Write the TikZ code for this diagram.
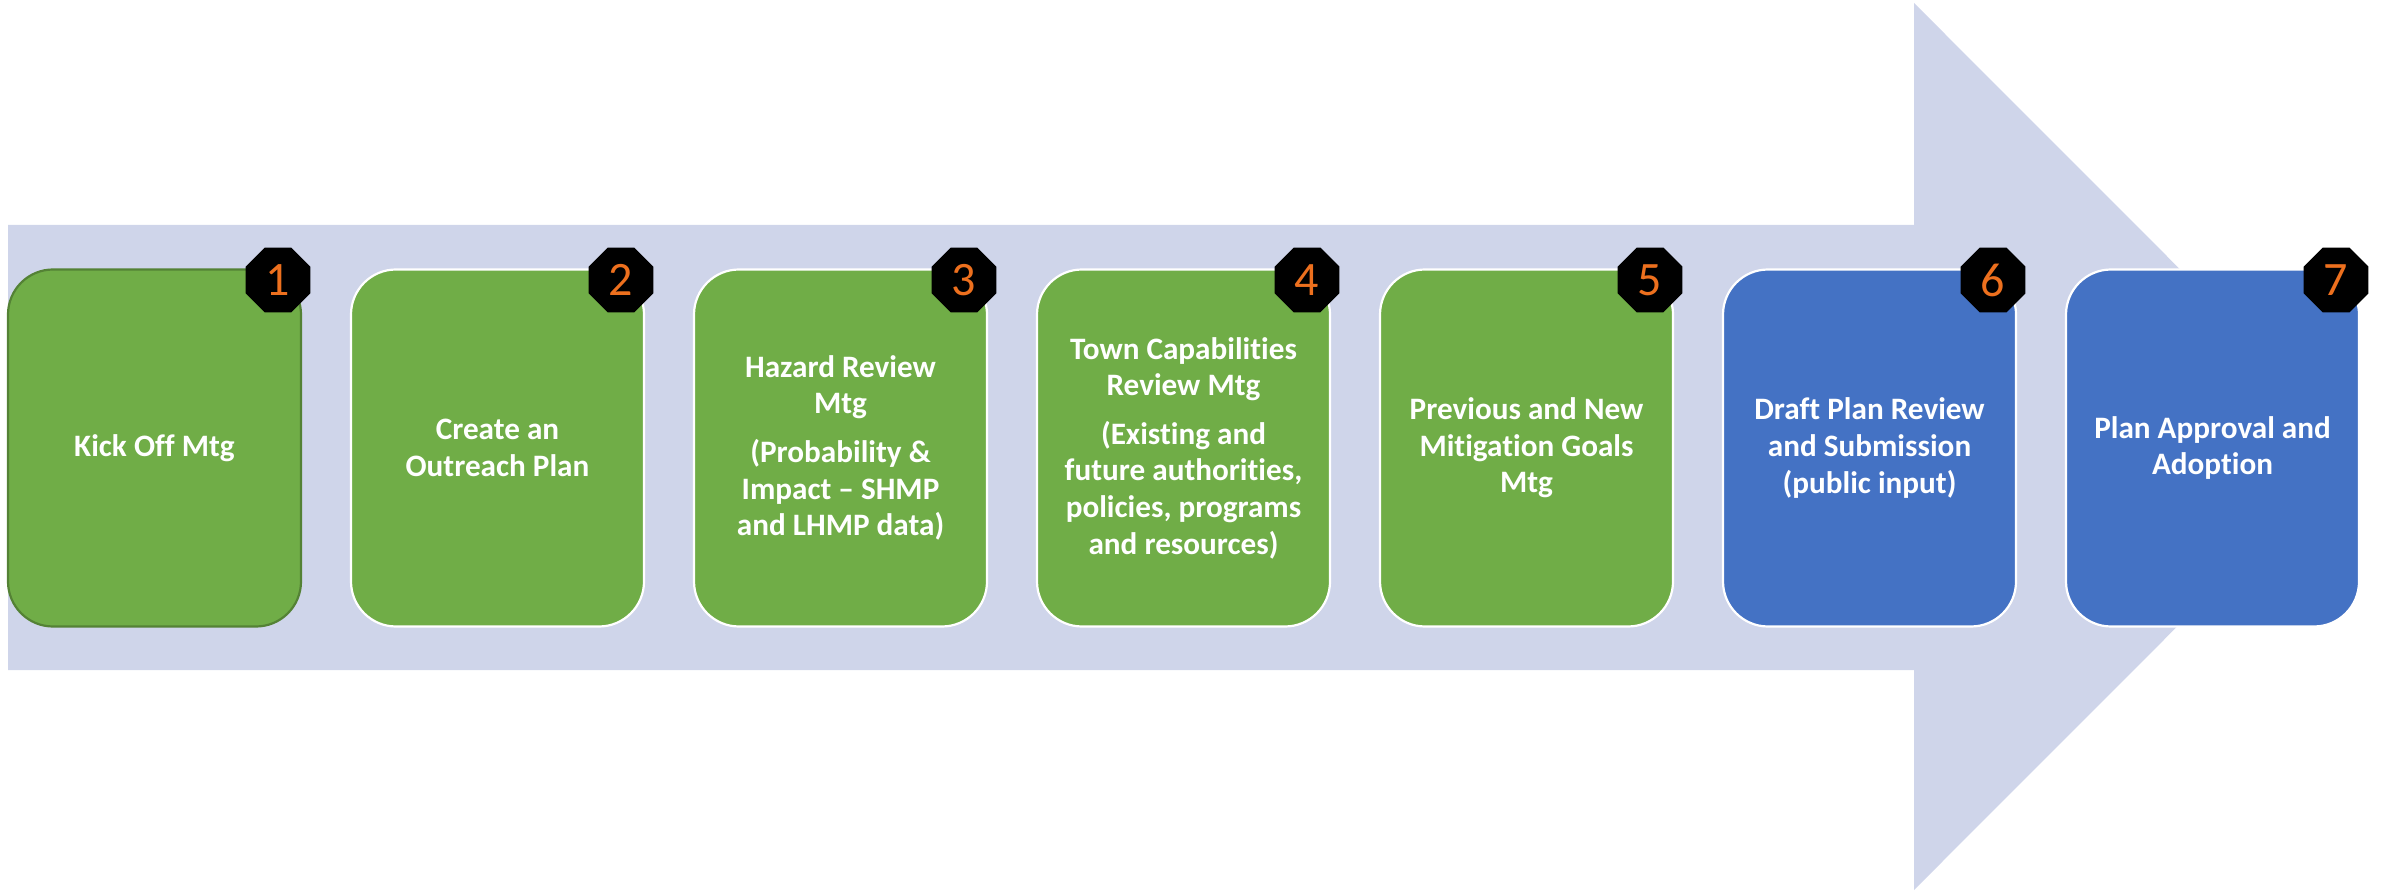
\documentclass[tikz,border=0pt]{standalone}
\usepackage{fontspec}
\setmainfont{Carlito}[Ligatures={TeX,NoCommon}]
\usetikzlibrary{shapes.geometric}
\definecolor{arrowfill}{RGB}{207,213,234}
\definecolor{stepgreen}{RGB}{112,173,71}
\definecolor{stepgreenedge}{RGB}{84,130,53}
\definecolor{stepblue}{RGB}{68,114,196}
\definecolor{numorange}{RGB}{237,112,30}
\begin{document}
\begin{tikzpicture}[x=0.5pt,y=-0.5pt,
  stepbox/.style={rounded corners=22.5pt, minimum width=146.5pt, minimum height=178.5pt,
    line width=1.1pt, draw=white, text=white, align=center,
    font=\bfseries\fontsize{15.6}{18.3}\selectfont, inner sep=0pt},
  greenbox/.style={stepbox, fill=stepgreen},
  bluebox/.style={stepbox, fill=stepblue},
  badge/.style={regular polygon, regular polygon sides=8, fill=black, minimum size=35pt,
    inner sep=0pt, text=numorange, font=\fontsize{24}{24}\selectfont}]
\useasboundingbox (0,0) rectangle (2392,892);
\fill[arrowfill] (8,225) -- (1914,225) -- (1914,3) -- (2357,446.5) -- (1914,890) -- (1914,670) -- (8,670) -- cycle;

\node[greenbox, draw=stepgreenedge] (s1) at (154.5,448) {Kick Off Mtg};
\node[greenbox] (s2) at (497.5,448) {Create an\\Outreach Plan};
\node[greenbox] (s3) at (840.5,448) {Hazard Review\\Mtg\\[6pt](Probability \&\\Impact -- SHMP\\and LHMP data)};
\node[greenbox] (s4) at (1183.5,448) {Town Capabilities\\Review Mtg\\[6pt](Existing and\\future authorities,\\policies, programs\\and resources)};
\node[greenbox] (s5) at (1526.5,448) {Previous and New\\Mitigation Goals\\Mtg};
\node[bluebox] (s6) at (1869.5,448) {Draft Plan Review\\and Submission\\(public input)};
\node[bluebox] (s7) at (2212.5,448) {Plan Approval and\\Adoption};

\node[badge] (b1) at (278,280) {1};
\node[badge] (b2) at (621,280) {2};
\node[badge] (b3) at (964,280) {3};
\node[badge] (b4) at (1307,280) {4};
\node[badge] (b5) at (1650,280) {5};
\node[badge] (b6) at (1993,280) {6};
\node[badge] (b7) at (2336,280) {7};
\end{tikzpicture}
\end{document}
